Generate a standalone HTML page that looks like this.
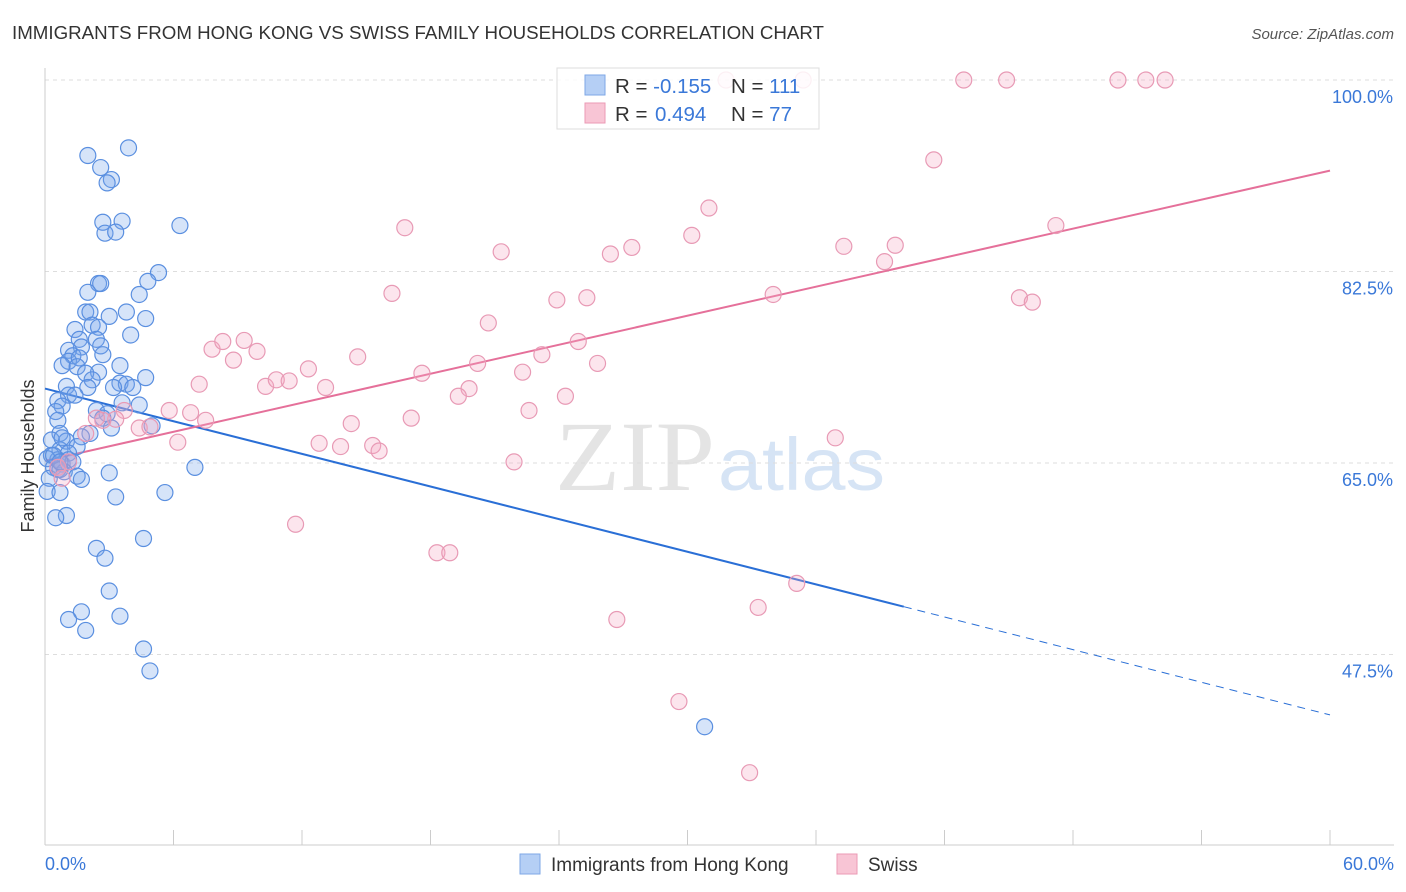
<!DOCTYPE html>
<html><head><meta charset="utf-8"><style>
body{margin:0;background:#fff;font-family:"Liberation Sans",sans-serif;}
svg{display:block}
</style></head><body>
<svg id="chart" width="1406" height="892">
<text x="12" y="39" font-size="18" fill="#333" textLength="812" lengthAdjust="spacingAndGlyphs">IMMIGRANTS FROM HONG KONG VS SWISS FAMILY HOUSEHOLDS CORRELATION CHART</text>
<text x="1394" y="39" font-size="15" fill="#555" font-style="italic" text-anchor="end">Source: ZipAtlas.com</text>
<text x="715" y="490" font-size="100" fill="#e4e4e4" text-anchor="end" font-family="Liberation Serif" textLength="160" lengthAdjust="spacingAndGlyphs">ZIP</text>
<text x="718" y="490" font-size="74" fill="#d6e4f5" textLength="167" lengthAdjust="spacingAndGlyphs">atlas</text>
<text transform="translate(34,456) rotate(-90)" font-size="18" fill="#333" text-anchor="middle">Family Households</text>
<g id="grid"></g><g id="ticks"></g><g id="lines"></g><g id="pts"></g>
<g>
<rect x="557" y="68" width="262" height="61" fill="#fff" fill-opacity="0.85" stroke="#ddd"/>
<rect x="585" y="75" width="20" height="20" fill="#b5cff5" stroke="#7ea7e6"/>
<rect x="585" y="103" width="20" height="20" fill="#f8c5d5" stroke="#eb9ab5"/>
<text x="615" y="93" font-size="20.5" fill="#333">R = <tspan fill="#3a78d8">-0.155</tspan><tspan x="731">N = </tspan><tspan fill="#3a78d8">111</tspan></text>
<text x="615" y="121" font-size="20.5" fill="#333">R = <tspan x="655" fill="#3a78d8">0.494</tspan><tspan x="731">N = </tspan><tspan fill="#3a78d8">77</tspan></text>
</g>
<g>
<rect x="520" y="854" width="20" height="20" fill="#b5cff5" stroke="#7ea7e6"/>
<text x="551" y="871" font-size="19" fill="#333">Immigrants from Hong Kong</text>
<rect x="837" y="854" width="20" height="20" fill="#f8c5d5" stroke="#eb9ab5"/>
<text x="868" y="871" font-size="19" fill="#333">Swiss</text>
</g>
</svg>
<script>
const blueX=[2.0,3.9,2.6,3.1,2.9,2.7,3.6,2.8,3.3,6.3,2.5,2.6,5.3,2.0,4.8,4.4,1.9,2.1,3.8,3.0,4.7,2.2,1.4,2.5,4.0,1.6,2.4,1.7,2.6,1.1,1.3,2.7,1.1,1.6,3.5,0.8,1.5,2.5,1.9,4.7,2.2,1.0,3.5,3.8,4.1,3.2,2.0,1.1,1.4,0.6,0.8,3.6,4.4,0.5,2.4,2.9,2.7,0.6,5.0,3.1,0.7,2.1,1.7,0.3,1.0,0.7,1.5,1.1,0.3,0.6,0.1,0.8,1.1,0.4,1.3,0.6,0.9,1.5,1.7,0.2,3.0,7.0,0.1,0.7,3.3,5.6,1.0,0.5,4.6,2.4,2.8,3.0,1.7,1.1,3.5,1.9,4.6,4.9,30.8,0.7,0.4,0.7,0.8];
const blueY=[93.1,93.8,92.0,90.9,90.6,87.0,87.1,86.0,86.1,86.7,81.4,81.4,82.4,80.6,81.6,80.4,78.8,78.8,78.8,78.4,78.2,77.6,77.2,77.4,76.7,76.3,76.3,75.6,75.7,75.3,74.8,74.9,74.3,74.6,73.9,73.9,73.8,73.3,73.2,72.8,72.6,72.0,72.3,72.2,71.9,71.9,71.9,71.2,71.2,70.7,70.2,70.5,70.3,69.7,69.8,69.5,69.1,68.9,68.4,68.2,67.7,67.7,67.4,67.1,67.0,66.2,66.5,65.9,65.7,65.3,65.4,64.9,65.3,64.6,65.1,64.4,64.2,63.8,63.5,63.6,64.1,64.6,62.4,62.3,61.9,62.3,60.2,60.0,58.1,57.2,56.3,53.3,51.4,50.7,51.0,49.7,48.0,46.0,40.9,64.4,65.7,65.1,67.3];
const pinkX=[42.9,44.9,50.1,51.4,52.3,35.4,31.8,41.5,31.0,16.8,30.2,47.2,37.3,39.7,39.2,27.4,26.4,21.3,16.2,25.3,23.9,34.0,45.5,46.1,20.7,9.3,7.8,8.3,9.9,8.8,14.6,23.2,24.9,25.8,12.3,20.2,17.6,22.3,7.2,10.3,10.8,11.4,13.1,19.8,19.3,24.3,22.6,14.3,17.1,6.8,5.8,3.7,3.3,2.7,4.4,4.9,1.9,6.2,12.8,13.8,15.3,15.6,36.9,1.1,21.9,0.6,0.8,11.7,18.3,18.9,35.1,33.3,26.7,29.6,32.9,2.4,7.5];
const pinkY=[100,100,100,100,100,100,100,92.7,88.3,86.5,85.8,86.7,84.8,84.9,83.4,84.7,84.1,84.3,80.5,80.1,79.9,80.4,80.1,79.7,77.8,76.2,75.4,76.1,75.2,74.4,74.7,74.9,76.1,74.1,73.6,74.1,73.2,73.3,72.2,72.0,72.6,72.5,71.9,71.8,71.1,71.1,69.8,68.6,69.1,69.6,69.8,69.8,69.0,68.9,68.2,68.3,67.7,66.9,66.8,66.5,66.6,66.1,67.3,65.1,65.1,64.6,63.6,59.4,56.8,56.8,54.0,51.8,50.7,43.2,36.7,69.1,68.9];
const blueTrend=[71.8,-0.497];
const pinkTrend=[65.2,0.442];
const yTicks=[100,82.5,65,47.5];
const yTickLabels=["100.0%","82.5%","65.0%","47.5%"];
const xTickLabels=["0.0%","60.0%"];
const NS="http://www.w3.org/2000/svg";
const X=v=>45+v/60*1285;
const Y=v=>80+(100-v)*191.5/17.5;
function mk(p,t,a){const e=document.createElementNS(NS,t);for(const k in a)e.setAttribute(k,a[k]);document.getElementById(p).appendChild(e);return e;}
yTicks.forEach((t,i)=>{
 const l=mk('grid','line',{x1:45,x2:1394,y1:Y(t),y2:Y(t),stroke:'#ddd','stroke-dasharray':'4,4'});
 
 
 const tx=mk('grid','text',{x:1393,y:Y(t)+23,'font-size':18,fill:'#3a78d8','text-anchor':'end'});
 tx.textContent=yTickLabels[i];
 
 
});
const ax=mk('ticks','line',{x1:45,x2:1394,y1:845,y2:845,stroke:'#ccc'});


const ay=mk('ticks','line',{x1:45,x2:45,y1:68,y2:845,stroke:'#ccc'});


for(let i=0;i<=10;i++){const t=mk('ticks','line',{x1:X(i*6),x2:X(i*6),y1:830,y2:845,stroke:'#ccc'});
 
 }
[[0,'start',45],[60,'end',1394]].forEach((d,i)=>{const t=mk('ticks','text',{x:d[2],y:870,'font-size':18,fill:'#3a78d8','text-anchor':d[1]});t.textContent=xTickLabels[i];
 
 });
function pts(xs,ys,f,s,n){xs.forEach((x,i)=>{const c=mk('pts','circle',{cx:X(x),cy:Y(ys[i]),r:8,fill:f,stroke:s,'stroke-width':1.2});
 
 });}
pts(blueX,blueY,'rgba(120,165,235,0.3)','#5a8fe0','hongkong-point');
pts(pinkX,pinkY,'rgba(245,170,195,0.3)','#e89ab5','swiss-point');
const bEnd=40.1;
const b1=mk('lines','line',{x1:X(0),y1:Y(blueTrend[0]),x2:X(bEnd),y2:Y(blueTrend[0]+blueTrend[1]*bEnd),stroke:'#2a6fd6','stroke-width':2});


const b2=mk('lines','line',{x1:X(bEnd),y1:Y(blueTrend[0]+blueTrend[1]*bEnd),x2:X(60),y2:Y(blueTrend[0]+blueTrend[1]*60),stroke:'#2a6fd6','stroke-width':1,'stroke-dasharray':'8,6'});


const p1=mk('lines','line',{x1:X(0),y1:Y(pinkTrend[0]),x2:X(60),y2:Y(pinkTrend[0]+pinkTrend[1]*60),stroke:'#e5709a','stroke-width':2});


</script>
</body></html>
